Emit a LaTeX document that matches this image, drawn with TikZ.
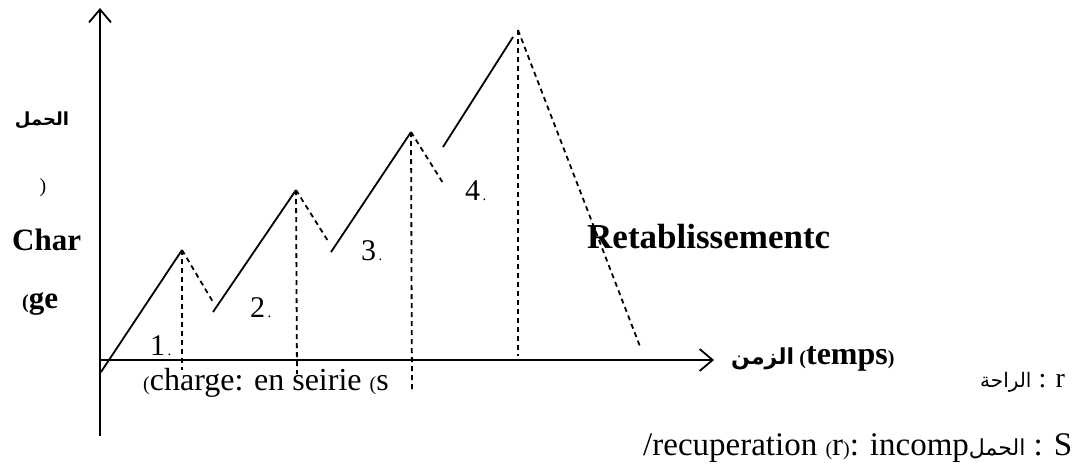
\documentclass[tikz,border=0pt]{standalone}
\usepackage{fontspec}
\setmainfont{Liberation Serif}
\newfontfamily\arabicfont[Script=Arabic]{DejaVu Sans}
\TeXXeTstate=1
\usetikzlibrary{arrows.meta}
\newcommand{\parsm}[1]{{\fontsize{20}{20}\selectfont #1}}
\newcommand{\dotsm}{{\fontsize{15}{15}\selectfont\,.}}

\begin{document}
\begin{tikzpicture}[x=1pt, y=-1pt,
    txt/.style={font=\fontsize{32}{34}\selectfont, inner sep=0pt, anchor=base west},
    numtxt/.style={font=\fontsize{30}{32}\selectfont, inner sep=0pt, anchor=base west},
    btxt/.style={font=\fontsize{31}{33}\selectfont\bfseries, inner sep=0pt, anchor=base west},
    artxt/.style={font=\arabicfont\fontsize{17}{19}\selectfont, inner sep=0pt},
    axis/.style={line width=1.9pt, -{Straight Barb[length=13pt, width=22pt, line width=1.8pt]}},
    charge/.style={line width=1.8pt},
    rest/.style={line width=1.8pt, dash pattern=on 5pt off 4pt}]
  \useasboundingbox (0,0) rectangle (1072,467);
  % Axes.
  \coordinate (o) at (100,360);
  \coordinate (ytop) at (100,8);
  \coordinate (ybot) at (100,436);
  \coordinate (xend) at (714,360);
  \draw[axis] (ybot) -- (ytop);
  \draw[axis] (o) -- (xend);
  % Peaks, starts of the charge and ends of the rest.
  \coordinate (pk1) at (182,250);
  \coordinate (pk2) at (296,190);
  \coordinate (pk3) at (411,132);
  \coordinate (pk4) at (518,30);
  \coordinate (s1) at (101,372);
  \coordinate (s2) at (213,312);
  \coordinate (s3) at (331,252);
  \coordinate (s4) at (443,147);
  \coordinate (e4) at (513,37);
  \coordinate (d1) at (213,302);
  \coordinate (d2) at (328,241);
  \coordinate (d3) at (443,183);
  \coordinate (d4) at (641,349);
  \coordinate (f1) at (182,370);
  \coordinate (f2) at (297,374);
  \coordinate (f3) at (412,392);
  \coordinate (f4) at (518,356);
  % Charge (solid) and recuperation (dashed).
  \draw[charge] (s1) -- (pk1);
  \draw[charge] (s2) -- (pk2);
  \draw[charge] (s3) -- (pk3);
  \draw[charge] (s4) -- (e4);
  \draw[rest] (pk1) -- (d1);
  \draw[rest] (pk2) -- (d2);
  \draw[rest] (pk3) -- (d3);
  \draw[rest] (pk4) -- (d4);
  \draw[rest] (pk1) -- (f1);
  \draw[rest] (pk2) -- (f2);
  \draw[rest] (pk3) -- (f3);
  \draw[rest] (pk4) -- (f4);
  % Numbers of the series.
  \node[numtxt] (n1) at (150,355) {1\dotsm};
  \node[numtxt] (n2) at (250,317) {2\dotsm};
  \node[numtxt] (n3) at (361,260) {3\dotsm};
  \node[numtxt] (n4) at (465,200) {4\dotsm};
  \node[btxt, font=\fontsize{35}{37}\selectfont\bfseries] (retab) at (587,248) {Retablissementc};
  % Axis labels.
  \node[artxt, font=\arabicfont\fontsize{18}{20}\selectfont\bfseries] (charAr) at (42,120) {\beginR الحمل\endR};
  \node[inner sep=0pt] (parA) at (43,188) {\parsm{)}};
  \node[btxt] (char) at (12,250) {Char};
  \node[btxt] (ge) at (22,308) {\parsm{(}ge};
  \node[btxt, font=\fontsize{32}{34}\selectfont\bfseries] (temps) at (731,364)
    {{\arabicfont\fontsize{22}{22}\selectfont\beginR الزمن\endR}\,\parsm{(}temps\parsm{)}};
  % Notes.
  \node[txt] (serie) at (143,390) {\parsm{(}charge: en seirie \parsm{(}s};
  \node[txt, font=\fontsize{28}{30}\selectfont] (rnote) at (980,387)
    {{\arabicfont\fontsize{20}{20}\selectfont\beginR الراحة\endR} : r};
  \node[txt, font=\fontsize{33}{35}\selectfont] (snote) at (643,455)
    {/recuperation \parsm{(}r\parsm{)}: incomp{\arabicfont\fontsize{22}{22}\selectfont\beginR الحمل\endR} : S};
\end{tikzpicture}
\end{document}
